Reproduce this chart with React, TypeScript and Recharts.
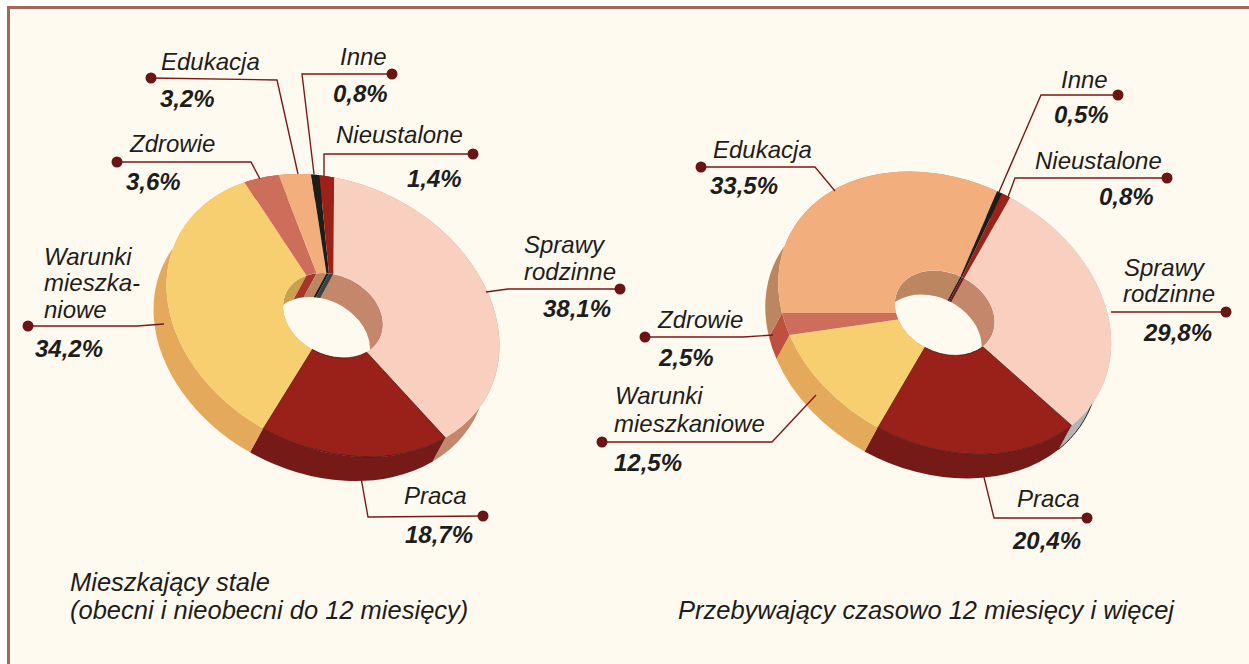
import { PieChart, Pie } from 'recharts';

const categories = ['Sprawy rodzinne', 'Praca', 'Warunki mieszkaniowe', 'Zdrowie', 'Edukacja', 'Inne', 'Nieustalone'];
const staleValues = [38.1, 18.7, 34.2, 3.6, 3.2, 0.8, 1.4];
const czasowoValues = [29.8, 20.4, 12.5, 2.5, 33.5, 0.5, 0.8];

const topColors = ['#f9d0c0', '#9a2119', '#f7cf70', '#cc6e59', '#f3ae7e', '#1d1d1b', '#9c2218'];
const wallColorsLeft = ['#c4876c', '#761a17', '#e4a95b', '#bf4f3e', '#bc8760', '#3c3c3c', '#761a17'];
const wallColorsRight = ['#b4b4b4', '#761a17', '#e4a95b', '#bf4f3e', '#bc8760', '#3c3c3c', '#761a17'];
const innerColorsLeft = ['#c4876c', '#761a17', '#c9a04c', '#a8352c', '#bc8760', '#1d1d1b', '#3f3f3d'];
const innerColorsRight = ['#c4876c', '#761a17', '#c9a04c', '#a8352c', '#bc8760', '#1d1d1b', '#761a17'];

const toTable = (values: number[], walls: string[], inners: string[]) =>
  categories.map((name, i) => ({ name, value: values[i], fill: topColors[i], wall: walls[i], inner: inners[i] }));

const staleData = toTable(staleValues, wallColorsLeft, innerColorsLeft);
const czasowoData = toTable(czasowoValues, wallColorsRight, innerColorsRight);

// the disc is a tilted ellipse: semi axes per 100 units of pie radius
const AX = 1.737;
const BX = 1.325;
const TILT = 26.2;
const DEPTH = { x: -13, y: 24 };
const BG = '#fffaf0';
const LINE = '#7a1a17';
const DOT = '#6b1414';

const cosT = Math.cos((TILT * Math.PI) / 180);
const sinT = Math.sin((TILT * Math.PI) / 180);

function pt(cx: number, cy: number, r: number, deg: number, dx = 0, dy = 0) {
  const a = (deg * Math.PI) / 180;
  const u = AX * r * Math.cos(a);
  const v = -BX * r * Math.sin(a);
  return { x: cx + u * cosT - v * sinT + dx, y: cy + u * sinT + v * cosT + dy };
}

const arcTo = (r: number, large: number, sweep: number, p: { x: number; y: number }) =>
  `A ${AX * r} ${BX * r} ${TILT} ${large} ${sweep} ${p.x} ${p.y}`;

function TopShape(props: any) {
  const { cx, cy, innerRadius: ri, outerRadius: ro, startAngle: s, endAngle: e, fill, index } = props;
  const large = Math.abs(s - e) > 180 ? 1 : 0;
  const d = [
    `M ${pt(cx, cy, ro, s).x} ${pt(cx, cy, ro, s).y}`,
    arcTo(ro, large, 1, pt(cx, cy, ro, e)),
    `L ${pt(cx, cy, ri, e).x} ${pt(cx, cy, ri, e).y}`,
    arcTo(ri, large, 0, pt(cx, cy, ri, s)),
    'Z',
  ].join(' ');
  const edged = index === 1;
  return <path d={d} fill={fill} stroke={edged ? '#3a1410' : 'none'} strokeWidth={edged ? 0.7 : 0} />;
}

function stripPath(cx: number, cy: number, r: number, s: number, e: number) {
  const large = Math.abs(s - e) > 180 ? 1 : 0;
  const a = pt(cx, cy, r, s);
  const b = pt(cx, cy, r, e);
  const c = pt(cx, cy, r, e, DEPTH.x, DEPTH.y);
  const f = pt(cx, cy, r, s, DEPTH.x, DEPTH.y);
  return `M ${a.x} ${a.y} ${arcTo(r, large, 1, b)} L ${c.x} ${c.y} ${arcTo(r, large, 0, f)} Z`;
}

function WallShape(props: any) {
  const { cx, cy, outerRadius: ro, startAngle: s, endAngle: e, payload, wall } = props;
  const color = wall ?? payload?.wall;
  const large = Math.abs(s - e) > 180 ? 1 : 0;
  const from = pt(cx, cy, ro, s, DEPTH.x, DEPTH.y);
  const to = pt(cx, cy, ro, e, DEPTH.x, DEPTH.y);
  return (
    <g>
      <path d={stripPath(cx, cy, ro, s, e)} fill={color} />
      {/* the grey wall of the right disc has a dark outer rim */}
      {color === '#b4b4b4' && (
        <path d={`M ${from.x} ${from.y} ${arcTo(ro, large, 1, to)}`} fill="none" stroke="#222" strokeWidth={1} />
      )}
    </g>
  );
}

function InnerShape(props: any) {
  const { cx, cy, innerRadius: ri, startAngle: s, endAngle: e, payload, inner, index } = props;
  const id = `hole-${cx}-${index}`;
  return (
    <g>
      <clipPath id={id}>
        <ellipse cx={cx} cy={cy} rx={AX * ri} ry={BX * ri} transform={`rotate(${TILT} ${cx} ${cy})`} />
      </clipPath>
      <path d={stripPath(cx, cy, ri, s, e)} fill={inner ?? payload?.inner} clipPath={`url(#${id})`} />
    </g>
  );
}

// label placement: [text x, baseline y] per line, percent position, leader polyline from dot to slice
const staleLabels = [
  { lines: [['Sprawy', 524, 253], ['rodzinne', 524, 280]], pct: [543, 317], leader: [[620, 289], [508, 289], [486, 292]] },
  { lines: [['Praca', 404, 504]], pct: [405, 543], leader: [[483, 516], [368, 517], [360, 472]] },
  { lines: [['Warunki', 44, 265], ['mieszka-', 44, 291], ['niowe', 44, 318]], pct: [35, 357], leader: [[28, 326], [137, 326], [164, 324]] },
  { lines: [['Zdrowie', 130, 152]], pct: [126, 190], leader: [[117, 162], [251, 162], [260, 179]] },
  { lines: [['Edukacja', 161, 70]], pct: [160, 107], leader: [[151, 78], [277, 80], [298, 174]] },
  { lines: [['Inne', 340, 65]], pct: [333, 102], leader: [[392, 74], [302, 74], [314, 174]] },
  { lines: [['Nieustalone', 336, 143]], pct: [407, 187], leader: [[473, 154], [324, 154], [324, 176]] },
];

const czasowoLabels = [
  { lines: [['Sprawy', 1124, 276], ['rodzinne', 1123, 302]], pct: [1144, 341], leader: [[1226, 312], [1111, 312]] },
  { lines: [['Praca', 1017, 507]], pct: [1013, 549], leader: [[1087, 518], [994, 518], [981, 465]] },
  { lines: [['Warunki', 615, 404], ['mieszkaniowe', 614, 432]], pct: [614, 471], leader: [[602, 442], [772, 442], [816, 395]] },
  { lines: [['Zdrowie', 658, 328]], pct: [659, 366], leader: [[645, 337], [743, 337], [773, 335]] },
  { lines: [['Edukacja', 713, 158]], pct: [710, 194], leader: [[701, 167], [815, 167], [835, 191]] },
  { lines: [['Inne', 1061, 88]], pct: [1054, 123], leader: [[1118, 95], [1041, 95], [999, 192]] },
  { lines: [['Nieustalone', 1035, 169]], pct: [1099, 205], leader: [[1167, 178], [1015, 178], [1008, 197]] },
];

const TEXT = { fontFamily: '"Liberation Sans", Arial, sans-serif', fontSize: 24, fontStyle: 'italic', fill: '#1d1d1b' } as const;

const makeLabel = (layout: typeof staleLabels) => (props: any) => {
  const { index, value } = props;
  const item = layout[index];
  const dot = item.leader[0];
  return (
    <g key={index}>
      <polyline
        points={item.leader.map((p) => p.join(',')).join(' ')}
        fill="none"
        stroke={LINE}
        strokeWidth={1.4}
      />
      <circle cx={dot[0]} cy={dot[1]} r={5.5} fill={DOT} />
      {item.lines.map(([t, x, y]) => (
        <text key={String(t)} x={x as number} y={y as number} {...TEXT}>
          {t}
        </text>
      ))}
      <text x={item.pct[0]} y={item.pct[1]} {...TEXT} fontWeight="bold">
        {`${Number(value).toFixed(1).replace('.', ',')}%`}
      </text>
    </g>
  );
};

function Disc({ data, cx, cy, start, labels }: any) {
  const common = {
    data,
    dataKey: 'value',
    nameKey: 'name',
    cx,
    cy,
    innerRadius: 30,
    outerRadius: 100,
    startAngle: start,
    endAngle: start - 360,
    isAnimationActive: false,
    stroke: 'none',
  };
  return [
    <Pie key="wall" {...common} shape={WallShape} />,
    <Pie key="top" {...common} shape={TopShape} />,
    <Pie key="inner" {...common} shape={InnerShape} label={makeLabel(labels)} labelLine={false} />,
  ];
}

export default function App() {
  return (
    <div style={{ position: 'absolute', left: 0, top: 0, width: 1249, height: 664, overflow: 'hidden', background: '#fff' }}>
      <div
        style={{
          position: 'absolute',
          left: 7,
          top: 6,
          width: 1249,
          height: 664,
          background: BG,
          borderLeft: '3px solid #a5665a',
          borderTop: '3px solid #a5665a',
        }}
      />
      <div style={{ position: 'absolute', left: 0, top: 0 }}>
        <PieChart width={1249} height={664} margin={{ top: 0, right: 0, bottom: 0, left: 0 }}>
          {Disc({ data: staleData, cx: 333, cy: 315.5, start: 110.2, labels: staleLabels })}
          {Disc({ data: czasowoData, cx: 944.7, cy: 313, start: 87.5, labels: czasowoLabels })}
          <text x={70} y={591} {...TEXT} fontSize={25.5}>Mieszkający stale</text>
          <text x={70} y={619} {...TEXT} fontSize={25.5}>(obecni i nieobecni do 12 miesięcy)</text>
          <text x={678} y={619} {...TEXT} fontSize={25.5}>Przebywający czasowo 12 miesięcy i więcej</text>
        </PieChart>
      </div>
    </div>
  );
}
